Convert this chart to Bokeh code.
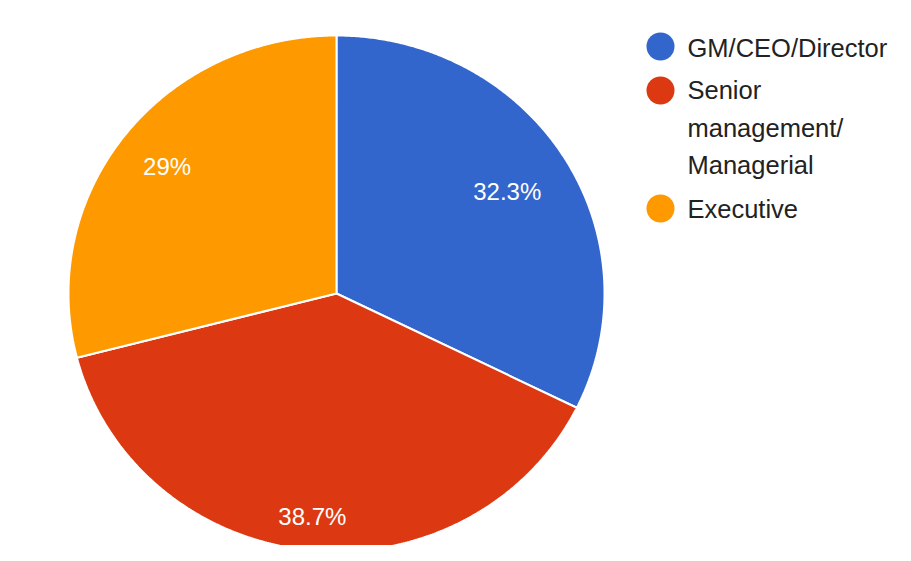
import numpy as np
from bokeh.plotting import figure
from bokeh.models import Range1d
from bokeh.core.properties import value
from bokeh.embed import file_html
from bokeh.resources import INLINE

# ---- data ----
categories = ["GM/CEO/Director", "Senior management/ Managerial", "Executive"]
legend_lines = [["GM/CEO/Director"], ["Senior", "management/", "Managerial"], ["Executive"]]
percent_values = [32.3, 38.7, 29.0]
percent_labels = ["32.3%", "38.7%", "29%"]
colors = ["#3366cc", "#dc3912", "#ff9900"]

# ---- layout (page pixels) ----
W, H = 895, 545
MARGIN = 0
CX_PX, CY_PX = 336, 293
RX, RY = 268, 258
label_radius = [0.75, 0.87, 0.80]
LEG_DOT_X = 660
LEG_DOT_Y = [46, 90, 208]
LEG_TEXT_X = 687
LEG_LINE_BASE = [[47], [89, 127, 164], [208]]

cx = CX_PX - MARGIN
cy = CY_PX - MARGIN


def to_data(px, py):
    return (px - MARGIN - cx) / RX, (cy - (py - MARGIN)) / RY


p = figure(width=W, height=H, output_backend="svg", toolbar_location=None,
           x_range=Range1d(-cx / RX, (W - cx) / RX),
           y_range=Range1d(-(H - cy) / RY, cy / RY),
           min_border=0)
p.axis.visible = False
p.grid.visible = False
p.outline_line_color = None
p.background_fill_color = "white"
p.border_fill_color = "white"

# ---- pie slices ----
vals = np.array(percent_values, dtype=float)
fr = vals / vals.sum()
start = np.pi / 2
xs, ys, mids = [], [], []
for f in fr:
    end = start - f * 2 * np.pi
    th = np.linspace(start, end, 300)
    xs.append([0.0] + list(np.cos(th)))
    ys.append([0.0] + list(np.sin(th)))
    mids.append((start + end) / 2)
    start = end

p.patches(xs, ys, fill_color=colors, line_color="white", line_width=2)

lx = [r * np.cos(m) for r, m in zip(label_radius, mids)]
ly = [r * np.sin(m) for r, m in zip(label_radius, mids)]
p.text(x=lx, y=ly, text=percent_labels, text_color="white",
       text_font=value("Liberation Sans"), text_font_size="24px",
       text_align="center", text_baseline="middle")

# ---- legend ----
dx, _ = to_data(LEG_DOT_X, 0)
dys = [to_data(0, y)[1] for y in LEG_DOT_Y]
p.scatter(x=[dx] * len(dys), y=dys, size=28, marker="circle",
          fill_color=colors, line_color=None)

tx, ty, tt = [], [], []
for lines, bases in zip(legend_lines, LEG_LINE_BASE):
    for line, b in zip(lines, bases):
        xx, yy = to_data(LEG_TEXT_X, b)
        tx.append(xx)
        ty.append(yy)
        tt.append(line)
p.text(x=tx, y=ty, text=tt, text_color="#222222",
       text_font=value("Liberation Sans"), text_font_size="25.5px",
       text_align="left", text_baseline="alphabetic")

open("out.html", "w").write(file_html(p, INLINE))
